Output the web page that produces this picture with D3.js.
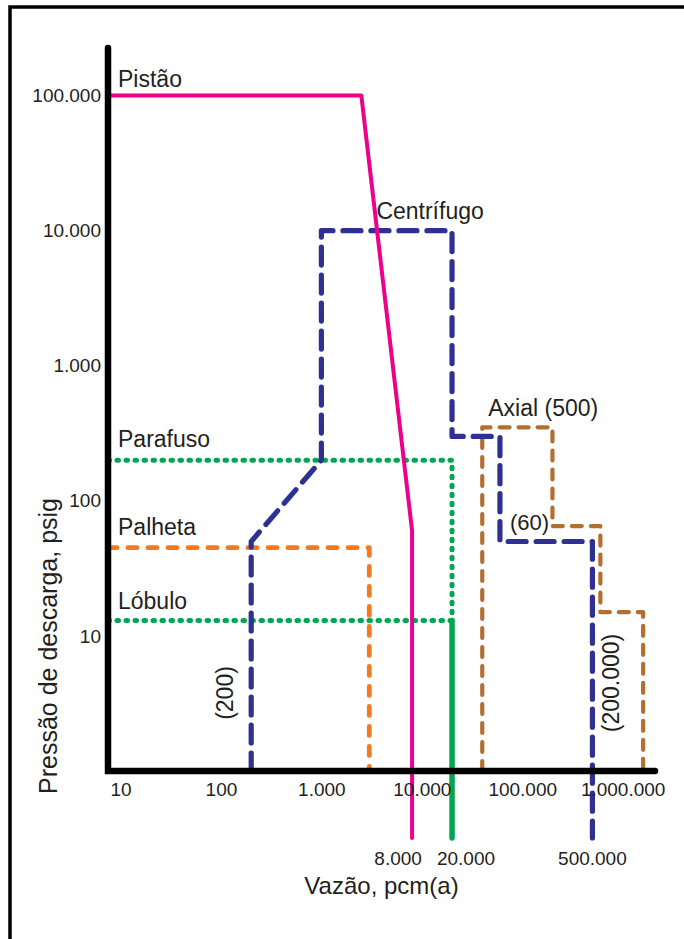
<!DOCTYPE html>
<html>
<head>
<meta charset="utf-8">
<script src="https://cdn.jsdelivr.net/npm/d3@7"></script>
<style>
  html, body { margin: 0; padding: 0; background: #fff; }
  svg { display: block; }
  text { font-family: "Liberation Sans", Arial, Helvetica, sans-serif; fill: #231F20; }
</style>
</head>
<body>
<svg id="chart" width="684" height="939"></svg>
<script>
// Faixas de aplicação de compressores: pressão de descarga (psig) x vazão (pcm(a))

// Axis domains and ticks
const flowDomain = [7.5, 2100000];
const pressureDomain = [1, 225000];
const flowTicks = [10, 100, 1000, 10000, 100000, 1000000];
const pressureTicks = [10, 100, 1000, 10000, 100000];

// Each series is a list of [vazão, pressão] vertices
const pistao = [[7.5, 100000], [2500, 100000], [8000, 60], [8000, 1]];
const centrifugo = [[200, 1], [200, 50], [1000, 200], [1000, 10000], [20000, 10000],
                    [20000, 300], [60000, 300], [60000, 50], [500000, 50], [500000, 1]];
const parafuso = [[7.5, 200], [20000, 200], [20000, 13]];
const lobulo = [[7.5, 13], [20000, 13]];
const rotativosLimite = [[20000, 13], [20000, 1]];
const palheta = [[7.5, 45], [3000, 45], [3000, 1]];
const axial = [[40000, 1], [40000, 350], [200000, 350], [200000, 65], [600000, 65],
               [600000, 15], [1600000, 15], [1600000, 1]];

// Flow limits annotated below the axis
const flowLimits = [8000, 20000, 500000];

const fmt = d3.formatLocale({ decimal: ",", thousands: ".", grouping: [3], currency: ["", ""] }).format(",d");

const svg = d3.select("#chart");

const x = d3.scaleLog().domain(flowDomain).range([108, 655]);
const y = d3.scaleLog().domain(pressureDomain).range([771, 48]);

// Outer frame
svg.append("rect")
  .attr("x", 10).attr("y", 7).attr("width", 720).attr("height", 980)
  .attr("fill", "none").attr("stroke", "#000").attr("stroke-width", 3.5);

const line = d3.line().x(d => x(d[0])).y(d => y(d[1]));
const LEADER = 67; // vertical lines that run past the axis to their value label

function withLeader(pts) {
  const last = pts[pts.length - 1];
  return line(pts) + "L" + x(last[0]) + "," + (y(last[1]) + LEADER);
}

const styles = {
  dotted: { stroke: "#00A651", width: 5, dash: "1.5 7.5", cap: "round" },
  green:  { stroke: "#00A651", width: 5.5, dash: null, cap: "round" },
  orange: { stroke: "#F47920", width: 4.8, dash: "9 11", cap: "round" },
  brown:  { stroke: "#B36F31", width: 4.2, dash: "10 9", cap: "round" },
  blue:   { stroke: "#2E3192", width: 5.2, dash: "18 10", cap: "round" },
  pink:   { stroke: "#EC008C", width: 4, dash: null, cap: "round" }
};

function draw(d, s) {
  const st = styles[s];
  svg.append("path")
    .attr("d", d)
    .attr("fill", "none")
    .attr("stroke", st.stroke)
    .attr("stroke-width", st.width)
    .attr("stroke-linecap", st.cap)
    .attr("stroke-linejoin", "round")
    .attr("stroke-dasharray", st.dash);
}

draw(line(parafuso), "dotted");
draw(line(lobulo), "dotted");
draw(withLeader(rotativosLimite), "green");
draw(line(palheta), "orange");
draw(line(axial), "brown");
draw(withLeader(centrifugo), "blue");
draw(withLeader(pistao), "pink");

// Axes
svg.append("path")
  .attr("d", `M${x.range()[0]},${y.range()[1]}L${x.range()[0]},${y.range()[0]}L${x.range()[1]},${y.range()[0]}`)
  .attr("fill", "none").attr("stroke", "#000").attr("stroke-width", 6.5)
  .attr("stroke-linecap", "round").attr("stroke-linejoin", "miter");

const yAxis = svg.append("g")
  .attr("transform", `translate(${x.range()[0]},0)`)
  .call(d3.axisLeft(y).tickValues(pressureTicks).tickFormat(fmt).tickSize(0).tickPadding(7));
const xAxis = svg.append("g")
  .attr("transform", `translate(0,${y.range()[0]})`)
  .call(d3.axisBottom(x).tickValues(flowTicks).tickFormat(fmt).tickSize(0).tickPadding(12));
[yAxis, xAxis].forEach(g => {
  g.select(".domain").remove();
  g.selectAll("text").attr("font-size", 19).attr("font-family", null).style("fill", "#231F20");
});

// Flow limit labels under the leaders, spread apart where they would collide
const limitLabels = svg.selectAll("text.limit").data(flowLimits).join("text")
  .attr("class", "limit")
  .attr("x", d => x(d)).attr("y", y(1) + 94)
  .attr("text-anchor", "middle").attr("font-size", 19)
  .text(d => fmt(d));
{
  const nodes = limitLabels.nodes();
  const cx = flowLimits.map(d => x(d));
  const w = nodes.map(n => n.getComputedTextLength());
  const gap = 15;
  for (let i = 1; i < cx.length; i++) {
    const need = (w[i - 1] + w[i]) / 2 + gap - (cx[i] - cx[i - 1]);
    if (need > 0) { cx[i - 1] -= need / 2; cx[i] += need / 2; }
  }
  limitLabels.attr("x", (d, i) => cx[i]);
}

// Compressor names and notes
const label = (txt, px, py, size) =>
  svg.append("text").attr("x", px).attr("y", py).attr("font-size", size || 23).text(txt);

label("Pistão", x.range()[0] + 10, y(100000) - 9);
label("Centrífugo", x(1000) + 55, y(10000) - 12);
label("Parafuso", x.range()[0] + 10, y(200) - 13);
label("Palheta", x.range()[0] + 10, y(45) - 13);
label("Lóbulo", x.range()[0] + 10, y(13) - 12);
label("Axial (500)", x(40000) + 6, y(350) - 11);
label("(60)", x(60000) + 10, y(50) - 11, 22);

const vlabel = (txt, px, py) =>
  svg.append("text").attr("transform", `translate(${px},${py}) rotate(-90)`)
    .attr("text-anchor", "middle").attr("font-size", 23).text(txt);
vlabel("(200)", x(200) - 18, y(1) - 78);
vlabel("(200.000)", x(500000) + 27, y(1) - 88);

// Axis titles
svg.append("text")
  .attr("x", (x.range()[0] + x.range()[1]) / 2).attr("y", 894)
  .attr("text-anchor", "middle").attr("font-size", 24)
  .text("Vazão, pcm(a)");
svg.append("text")
  .attr("transform", "translate(57,646) rotate(-90)")
  .attr("text-anchor", "middle").attr("font-size", 25)
  .text("Pressão de descarga, psig");
</script>
</body>
</html>
